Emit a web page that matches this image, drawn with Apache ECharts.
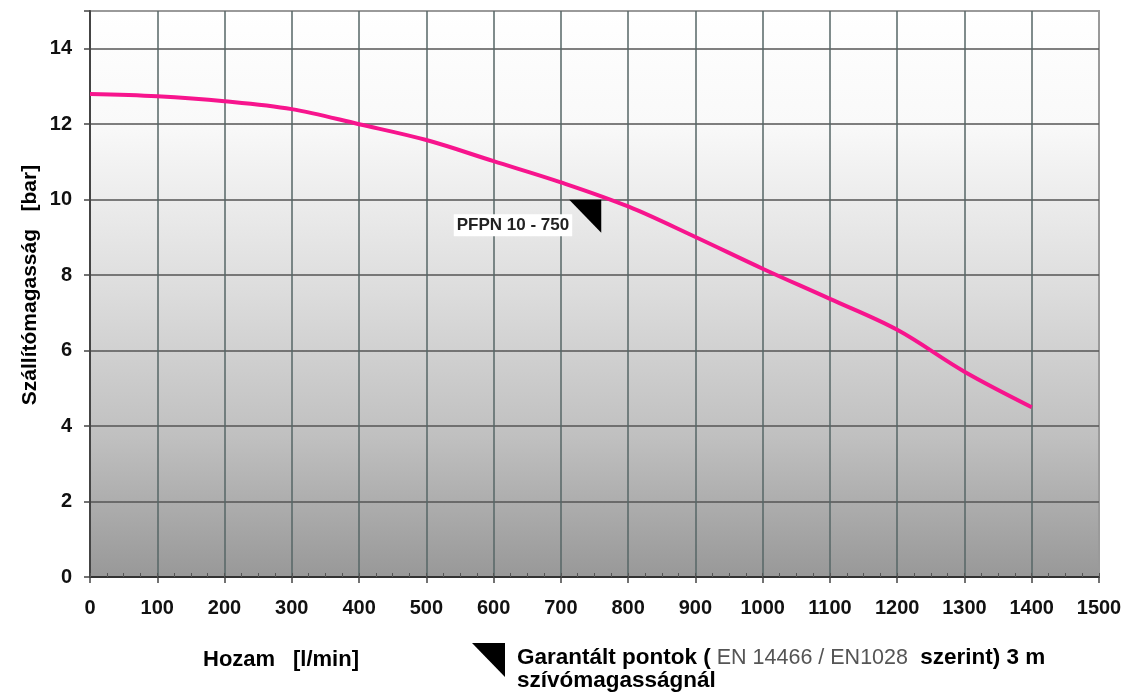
<!DOCTYPE html>
<html>
<head>
<meta charset="utf-8">
<script src="https://cdn.jsdelivr.net/npm/echarts@6/dist/echarts.min.js"></script>
<style>
html,body{margin:0;padding:0;background:#fff;}
#c{width:1125px;height:694px;}
</style>
</head>
<body>
<div id="c"></div>
<script>
// Data
const flow = [0, 100, 200, 300, 400, 500, 600, 700, 800, 900, 1000, 1100, 1200, 1300, 1400];
const head = [12.8, 12.74, 12.61, 12.4, 12.0, 11.58, 11.02, 10.46, 9.82, 9.01, 8.17, 7.37, 6.55, 5.44, 4.5];
const guaranteedFlow = [760];
const guaranteedHead = [10.0];
const pumpLabel = 'PFPN 10 - 750';
const xTicks = [0, 100, 200, 300, 400, 500, 600, 700, 800, 900, 1000, 1100, 1200, 1300, 1400, 1500];
const yTicks = [0, 2, 4, 6, 8, 10, 12, 14];
const yTitle = 'Szállítómagasság   [bar]';
const xTitleA = 'Hozam';
const xTitleB = '[l/min]';
const legendA = 'Garantált pontok (';
const legendB = ' EN 14466 / EN1028 ';
const legendC = ' szerint) 3 m';
const legendLine2 = 'szívómagasságnál';

const FONT = '"Liberation Sans", Arial, sans-serif';
const chart = echarts.init(document.getElementById('c'), null, {renderer: 'canvas'});

const curve = flow.map((x, i) => [x, head[i]]);
const guaranteed = guaranteedFlow.map((x, i) => [x, guaranteedHead[i]]);

const option = {
  animation: false,
  backgroundColor: '#ffffff',
  grid: {
    left: 90, right: 26, top: 11, bottom: 117,
    show: true,
    borderColor: '#9a9a9a',
    borderWidth: 2,
    backgroundColor: {
      type: 'linear', x: 0, y: 0, x2: 0, y2: 1,
      colorStops: [
        {offset: 0, color: '#ffffff'},
        {offset: 0.2, color: '#f9f9f9'},
        {offset: 0.5, color: '#dcdcdc'},
        {offset: 0.75, color: '#c0c0c0'},
        {offset: 1, color: '#989898'}
      ]
    }
  },
  xAxis: [{
    type: 'value', min: xTicks[0], max: xTicks[xTicks.length - 1], interval: 100,
    position: 'bottom',
    axisLine: {show: true, onZero: false, lineStyle: {color: '#333', width: 2}},
    axisTick: {show: true, length: 6, lineStyle: {color: '#444', width: 1.5}},
    axisLabel: {color: '#111', fontFamily: FONT, fontWeight: 'bold', fontSize: 20, margin: 21,
      formatter: v => xTicks.includes(v) ? String(v) : ''},
    splitLine: {show: true, showMinLine: false, showMaxLine: false, lineStyle: {color: '#566666', width: 1.5}}
  }, {
    type: 'value', min: 0, max: 1500, interval: 25, position: 'bottom',
    axisLine: {show: false},
    axisTick: {show: true, inside: true, length: 4, lineStyle: {color: '#555', width: 1}},
    axisLabel: {show: false},
    splitLine: {show: false}
  }],
  yAxis: {
    type: 'value', min: 0, max: 15, interval: 2,
    axisLine: {show: true, onZero: false, lineStyle: {color: '#444', width: 2}},
    axisTick: {show: true, length: 6, lineStyle: {color: '#444', width: 1.5}},
    axisLabel: {color: '#111', fontFamily: FONT, fontWeight: 'bold', fontSize: 20, margin: 18,
      formatter: v => yTicks.includes(v) ? String(v) : ''},
    splitLine: {show: true, showMinLine: false, showMaxLine: false, lineStyle: {color: '#545454', width: 1.5}}
  },
  series: [{
    type: 'line',
    data: curve,
    smooth: 0.35,
    showSymbol: false,
    lineStyle: {color: '#f7148d', width: 4},
    z: 3
  }, {
    type: 'scatter',
    data: guaranteed,
    symbol: 'path://M0,0 L32,0 L32,33 Z',
    symbolSize: [32, 33],
    symbolOffset: [-16, 16.5],
    itemStyle: {color: '#000', opacity: 1},
    label: {
      show: true,
      formatter: pumpLabel,
      position: 'left',
      distance: 0,
      offset: [3, 9],
      backgroundColor: '#ffffff',
      padding: [3, 3, 2, 3],
      color: '#222',
      fontFamily: FONT,
      fontWeight: 'bold',
      fontSize: 17
    },
    z: 4
  }],
  graphic: [
    {
      type: 'text', x: 30, y: 285, rotation: Math.PI / 2,
      style: {text: yTitle, font: 'bold 21px ' + FONT, fill: '#000', align: 'center', verticalAlign: 'middle'}
    },
    {
      type: 'text', x: 203, y: 660,
      style: {text: xTitleA, font: 'bold 22px ' + FONT, fill: '#000', align: 'left', verticalAlign: 'middle'}
    },
    {
      type: 'text', x: 293, y: 660,
      style: {text: xTitleB, font: 'bold 22px ' + FONT, fill: '#000', align: 'left', verticalAlign: 'middle'}
    },
    {
      type: 'polygon',
      shape: {points: [[472, 643], [505, 643], [505, 677]]},
      style: {fill: '#000'}
    },
    {
      type: 'text', x: 517, y: 658,
      style: {
        text: '{b|' + legendA + '}{n|' + legendB + '}{b|' + legendC + '}',
        verticalAlign: 'middle', align: 'left',
        rich: {
          b: {font: 'bold 22.5px ' + FONT, fill: '#000'},
          n: {font: '21.5px ' + FONT, fill: '#555'}
        }
      }
    },
    {
      type: 'text', x: 517, y: 681,
      style: {text: legendLine2, font: 'bold 22.5px ' + FONT, fill: '#000', align: 'left', verticalAlign: 'middle'}
    }
  ]
};
chart.setOption(option);
</script>
</body>
</html>
